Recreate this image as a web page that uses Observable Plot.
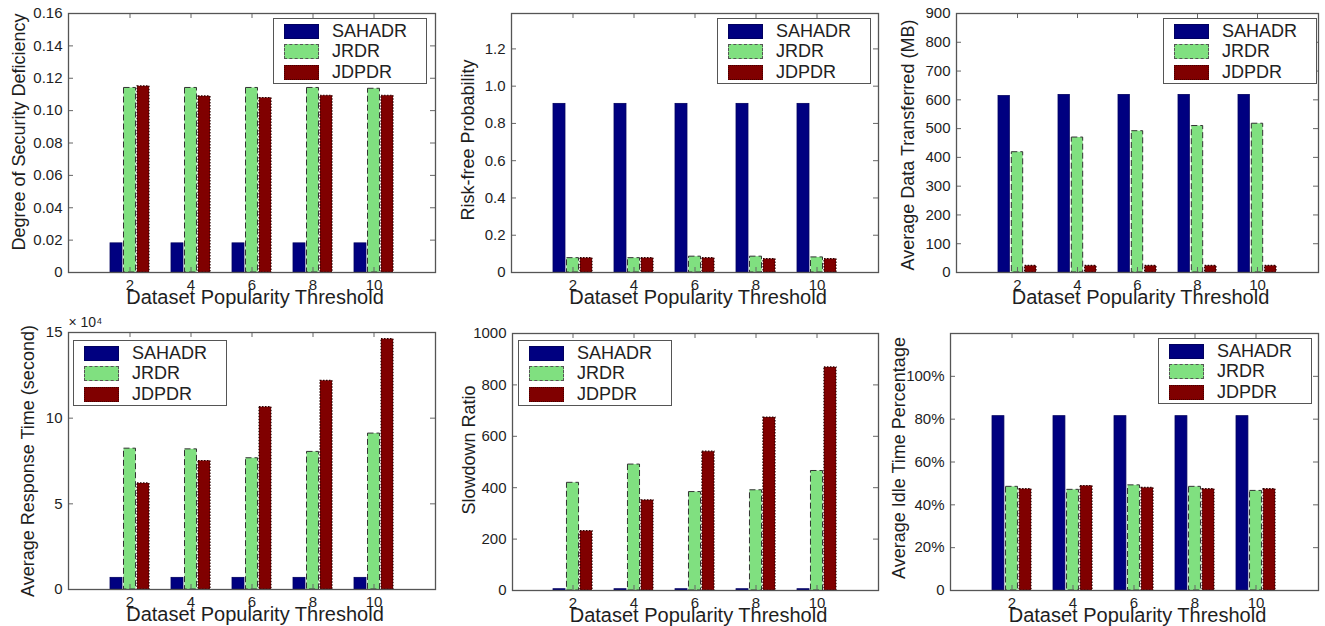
<!DOCTYPE html>
<html><head><meta charset="utf-8">
<script src="https://cdn.jsdelivr.net/npm/d3@7"></script>
<script src="https://cdn.jsdelivr.net/npm/@observablehq/plot@0.6"></script>
<style>
body{margin:0;background:#fff;}
#root{position:relative;width:1325px;height:626px;overflow:hidden;background:#fff;font-family:"Liberation Sans",Arial,Helvetica,sans-serif;}
.panel{position:absolute;}
.panel svg{overflow:visible;}
.legend{position:absolute;background:#fff;border:1px solid #555;box-sizing:border-box;padding:2px 0 0 10px;}
.row{display:flex;align-items:center;height:20.5px;font-size:18px;color:#222;}
.sw{width:35px;height:15px;box-sizing:border-box;margin-right:13px;}
</style></head><body><div id="root"></div>
<script>
// ---- data ----
const thresholds = ["2", "4", "6", "8", "10"];
const seriesNames = ["SAHADR", "JRDR", "JDPDR"];

const deficiencySAHADR = [0.018, 0.018, 0.018, 0.018, 0.018];
const deficiencyJRDR   = [0.114, 0.114, 0.114, 0.114, 0.1135];
const deficiencyJDPDR  = [0.115, 0.1088, 0.1078, 0.1092, 0.1092];

const riskFreeSAHADR = [0.905, 0.905, 0.905, 0.905, 0.905];
const riskFreeJRDR   = [0.077, 0.077, 0.085, 0.085, 0.081];
const riskFreeJDPDR  = [0.077, 0.077, 0.077, 0.072, 0.072];

const dataTransferSAHADR = [613, 617, 617, 617, 617];
const dataTransferJRDR   = [418, 469, 491, 509, 517];
const dataTransferJDPDR  = [23, 23, 23, 23, 23];

const responseSAHADR = [0.68, 0.68, 0.68, 0.68, 0.68]; // x 10^4 s
const responseJRDR   = [8.22, 8.18, 7.66, 8.03, 9.1];
const responseJDPDR  = [6.19, 7.5, 10.64, 12.18, 14.61];

const slowdownSAHADR = [5, 5, 5, 5, 5];
const slowdownJRDR   = [419, 490, 383, 390, 465];
const slowdownJDPDR  = [231, 351, 540, 673, 868];

const idleSAHADR = [0.814, 0.814, 0.814, 0.814, 0.814];
const idleJRDR   = [0.484, 0.470, 0.491, 0.484, 0.465];
const idleJDPDR  = [0.473, 0.488, 0.479, 0.473, 0.473];

const deficiencyTicks = [0, 0.02, 0.04, 0.06, 0.08, 0.1, 0.12, 0.14, 0.16];
const riskFreeTicks = [0, 0.2, 0.4, 0.6, 0.8, 1.0, 1.2];
const dataTransferTicks = [0, 100, 200, 300, 400, 500, 600, 700, 800, 900];
const responseTicks = [0, 5, 10, 15];
const slowdownTicks = [0, 200, 400, 600, 800, 1000];
const idleTicks = [0, 0.2, 0.4, 0.6, 0.8, 1.0];

// ---- layout ----
const panels = [
  {left:0, top:0, width:440, height:310, ml:68, mr:5, mt:13, mb:38, ymax:0.16,
   values:[deficiencySAHADR, deficiencyJRDR, deficiencyJDPDR], ticks:deficiencyTicks,
   fmt:d=>d===0?"0":d3.format(".2f")(d), ylabel:"Degree of Security Deficiency", ylx:19, yldy:-11,
   legend:{x:273, y:18}},
  {left:440, top:0, width:440, height:310, ml:71, mr:2, mt:13, mb:38, ymax:1.39,
   values:[riskFreeSAHADR, riskFreeJRDR, riskFreeJDPDR], ticks:riskFreeTicks,
   fmt:d=>d===0?"0":d3.format(".1f")(d), ylabel:"Risk-free Probability", ylx:28, yldy:-3,
   legend:{x:717, y:18}},
  {left:880, top:0, width:445, height:310, ml:76, mr:7, mt:13, mb:38, ymax:900,
   values:[dataTransferSAHADR, dataTransferJRDR, dataTransferJDPDR], ticks:dataTransferTicks,
   fmt:d=>String(d), ylabel:"Average Data Transferred (MB)", ylx:28, yldy:2,
   legend:{x:1163, y:18}},
  {left:0, top:310, width:440, height:316, ml:68, mr:5, mt:22, mb:37, ymax:15,
   values:[responseSAHADR, responseJRDR, responseJDPDR], ticks:responseTicks,
   fmt:d=>String(d), ylabel:"Average Response Time (second)", ylx:28, yldy:0, exponent:"× 10⁴",
   legend:{x:73, y:340}},
  {left:440, top:310, width:440, height:316, ml:72, mr:2, mt:23, mb:36, ymax:1000,
   values:[slowdownSAHADR, slowdownJRDR, slowdownJDPDR], ticks:slowdownTicks,
   fmt:d=>String(d), ylabel:"Slowdown Ratio", ylx:29, yldy:-12,
   legend:{x:518, y:340}},
  {left:880, top:310, width:445, height:316, ml:70, mr:7, mt:23, mb:36, ymax:1.2,
   values:[idleSAHADR, idleJRDR, idleJDPDR], ticks:idleTicks,
   fmt:d=>d===0?"0":Math.round(d*100)+"%", ylabel:"Average Idle Time Percentage", ylx:19, yldy:-4,
   legend:{x:1158, y:338}}
];

const seriesStyles = [
  {fill:"#000080", stroke:"#000060", strokeWidth:0.8},
  {fill:"#80e080", stroke:"#333", strokeWidth:1, strokeDasharray:"6,3"},
  {fill:"#800000", stroke:"#2a0000", strokeWidth:1.2, strokeDasharray:"1.5,1.5"}
];
const legendCss = [
  "background:#000080;border:1px solid #000060;",
  "background:#80e080;border:1.5px dashed #555;",
  "background:#800000;border:1.5px dotted #400;"
];

const root = document.getElementById("root");
const txt = "#1e1e1e";

for (const p of panels) {
  const W = p.width - p.ml - p.mr;
  const H = p.height - p.mt - p.mb;
  const step = W / 6, bw = step * 0.64, barW = bw * 0.31, gap = (bw - 3 * barW) / 2;
  const rows = thresholds.flatMap((t, i) => seriesNames.map((s, j) => ({t, s, v: p.values[j][i]})));
  const marks = [];
  seriesNames.forEach((s, j) => {
    marks.push(Plot.barY(rows.filter(r => r.s === s), {
      x: "t", y: "v", ...seriesStyles[j],
      insetLeft: j * (barW + gap), insetRight: (2 - j) * (barW + gap)
    }));
  });
  // inner ticks (MATLAB box style)
  marks.push(Plot.tickY(p.ticks, {y: d => d, stroke: "#666", insetRight: W - 5}));
  marks.push(Plot.tickY(p.ticks, {y: d => d, stroke: "#666", insetLeft: W - 5}));
  marks.push(Plot.tickX(thresholds, {x: d => d, stroke: "#666", insetTop: H - 5}));
  marks.push(Plot.tickX(thresholds, {x: d => d, stroke: "#666", insetBottom: H - 5}));
  marks.push(Plot.frame({stroke: "#555", strokeWidth: 1.3}));
  marks.push(Plot.text(["Dataset Popularity Threshold"], {frameAnchor: "bottom", lineAnchor: "middle", textAnchor: "middle", dy: 25, dx: 3, fontSize: 20, fill: txt}));
  marks.push(Plot.text([p.ylabel], {frameAnchor: "left", textAnchor: "middle", lineAnchor: "middle", rotate: -90, dx: -(p.ml - p.ylx), dy: p.yldy, fontSize: 18, fill: txt}));
  if (p.exponent) marks.push(Plot.text([p.exponent], {frameAnchor: "top-left", textAnchor: "start", lineAnchor: "middle", dy: -10, fontSize: 14, fill: txt}));

  const chart = Plot.plot({
    width: p.width, height: p.height,
    marginLeft: p.ml, marginRight: p.mr, marginTop: p.mt, marginBottom: p.mb,
    x: {type: "band", domain: thresholds, paddingInner: 0.36, paddingOuter: 0.68, align: 0.5,
        tickSize: 0, tickPadding: 7, label: null},
    y: {domain: [0, p.ymax], ticks: p.ticks, tickFormat: p.fmt, tickSize: 0, tickPadding: 6, label: null},
    style: {fontFamily: '"Liberation Sans", Arial, Helvetica, sans-serif', fontSize: "15px", color: txt, background: "transparent", overflow: "visible"},
    marks
  });
  const div = document.createElement("div");
  div.className = "panel";
  div.style.left = p.left + "px"; div.style.top = p.top + "px";
  div.appendChild(chart);
  root.appendChild(div);

  const lg = document.createElement("div");
  lg.className = "legend";
  lg.style.left = p.legend.x + "px"; lg.style.top = p.legend.y + "px";
  lg.style.width = "154px"; lg.style.height = "66px";
  seriesNames.forEach((s, j) => {
    const r = document.createElement("div");
    r.className = "row";
    const sw = document.createElement("div");
    sw.className = "sw"; sw.style.cssText = legendCss[j];
    const t = document.createElement("span");
    t.textContent = s;
    r.appendChild(sw); r.appendChild(t);
    lg.appendChild(r);
  });
  root.appendChild(lg);
}
</script></body></html>
